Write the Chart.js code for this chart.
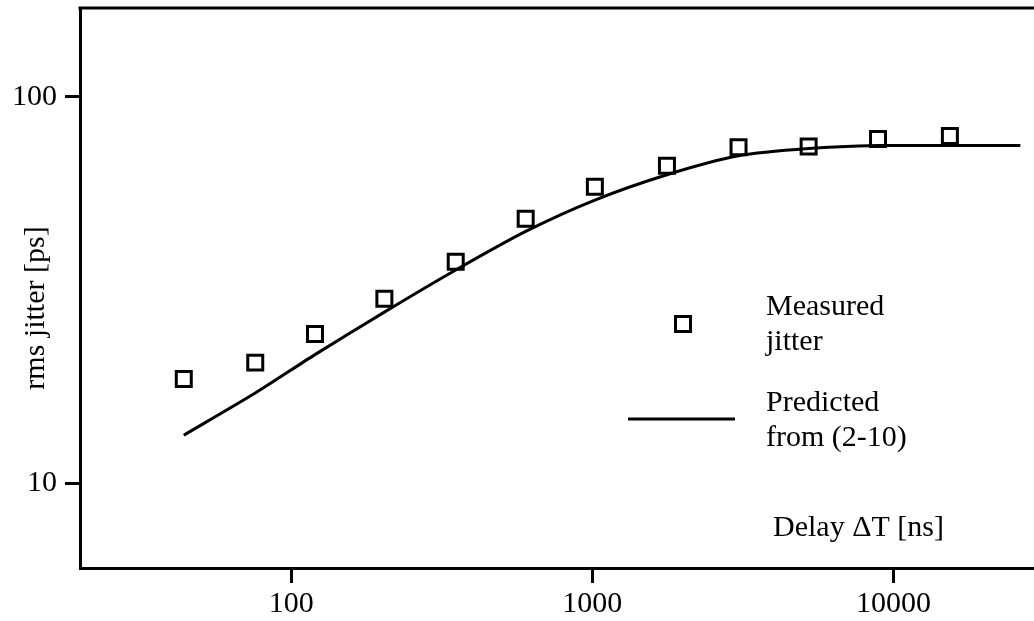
<!DOCTYPE html>
<html>
<head>
<meta charset="utf-8">
<script src="https://cdn.jsdelivr.net/npm/chart.js@4/dist/chart.umd.min.js"></script>
<style>
  body { margin: 0; background: #fff; }
  #wrap { width: 1034px; height: 621px; }
</style>
</head>
<body>
<div id="wrap"><canvas id="myChart"></canvas></div>
<script>
// measured points
const delayNs = [44, 76, 120, 204, 352, 601, 1020, 1770, 3060, 5230, 8890, 15400];
const measuredPs = [18.6, 20.5, 24.3, 30.0, 37.4, 48.3, 58.5, 66.3, 74.0, 74.3, 77.7, 79.1];
// predicted curve from (2-10)
const predictedDelayNs = [44, 76, 120, 204, 352, 601, 1020, 1770, 3060, 5230, 8890, 15400, 26400];
const predictedPs = [13.3, 17.1, 21.5, 27.7, 35.6, 44.8, 54.0, 62.8, 70.3, 73.4, 74.7, 74.7, 74.7];
// tick labels
const xTicks = [100, 1000, 10000];
const yTicks = [10, 100];

const FONT = '"Liberation Serif", "Times New Roman", serif';

// frame top line + texts inside the plot
const decoPlugin = {
    id: 'deco',
    afterDraw(chart) {
        const ctx = chart.ctx;
        const a = chart.chartArea;
        ctx.save();
        ctx.strokeStyle = '#000';
        ctx.lineWidth = 3;
        ctx.beginPath();
        ctx.moveTo(a.left - 1.5, a.top);
        ctx.lineTo(a.right, a.top);
        ctx.stroke();

        // legend
        ctx.lineWidth = 3;
        ctx.strokeRect(675.5, 316.5, 15, 15);
        ctx.beginPath();
        ctx.moveTo(628, 419);
        ctx.lineTo(735, 419);
        ctx.stroke();

        ctx.fillStyle = '#000';
        ctx.font = '30px ' + FONT;
        ctx.textAlign = 'left';
        ctx.textBaseline = 'alphabetic';
        ctx.fillText('Measured', 766, 315);
        ctx.fillText('jitter', 766, 350);
        ctx.fillText('Predicted', 766, 411);
        ctx.fillText('from (2-10)', 766, 446);
        ctx.fillText('Delay \u0394T [ns]', 773, 536);

        // y title
        ctx.translate(44, 308);
        ctx.rotate(-Math.PI / 2);
        ctx.textAlign = 'center';
        ctx.fillText('rms jitter [ps]', 0, 0);
        ctx.restore();
    }
};

function noPad(s) {
    s.paddingTop = 0;
    s.paddingBottom = 0;
    s.paddingLeft = 0;
    s.paddingRight = 0;
}

window.onload = function() {
    const ctx = document.getElementById('myChart').getContext('2d');
    new Chart(ctx, {
        type: 'scatter',
        data: {
            datasets: [{
                label: 'Measured jitter',
                data: delayNs.map((x, i) => ({x: x, y: measuredPs[i]})),
                pointStyle: 'rect',
                pointRadius: 10.6,
                pointHoverRadius: 10.6,
                pointBorderWidth: 3,
                borderColor: '#000',
                backgroundColor: 'rgba(0,0,0,0)',
                showLine: false
            }, {
                label: 'Predicted from (2-10)',
                data: predictedDelayNs.map((x, i) => ({x: x, y: predictedPs[i]})),
                showLine: true,
                borderColor: '#000',
                borderWidth: 3,
                pointRadius: 0,
                tension: 0.25,
                fill: false
            }]
        },
        options: {
            responsive: true,
            maintainAspectRatio: false,
            animation: false,
            layout: { autoPadding: false, padding: { top: 8, right: 0, left: 0, bottom: 0 } },
            plugins: {
                legend: { display: false },
                tooltip: { enabled: false }
            },
            scales: {
                x: {
                    type: 'logarithmic',
                    min: 19.9,
                    max: 29300,
                    afterBuildTicks: s => { s.ticks = xTicks.map(v => ({value: v})); },
                    afterFit: s => { s.height = 53; noPad(s); },
                    border: { display: true, color: '#000', width: 3 },
                    grid: { drawOnChartArea: false, drawTicks: true, tickLength: 15, tickWidth: 3, tickColor: '#000' },
                    ticks: {
                        color: '#000',
                        font: { family: FONT, size: 30 },
                        padding: 3,
                        maxRotation: 0,
                        autoSkip: false,
                        callback: v => String(v)
                    }
                },
                y: {
                    type: 'logarithmic',
                    min: 6.03,
                    max: 169.6,
                    afterBuildTicks: s => { s.ticks = yTicks.map(v => ({value: v})); },
                    afterFit: s => { s.width = 80; noPad(s); },
                    border: { display: true, color: '#000', width: 3 },
                    grid: { drawOnChartArea: false, drawTicks: true, tickLength: 15, tickWidth: 3, tickColor: '#000' },
                    ticks: {
                        color: '#000',
                        font: { family: FONT, size: 30 },
                        padding: 8,
                        autoSkip: false,
                        callback: v => String(v)
                    }
                }
            }
        },
        plugins: [decoPlugin]
    });
};
</script>
</body>
</html>
